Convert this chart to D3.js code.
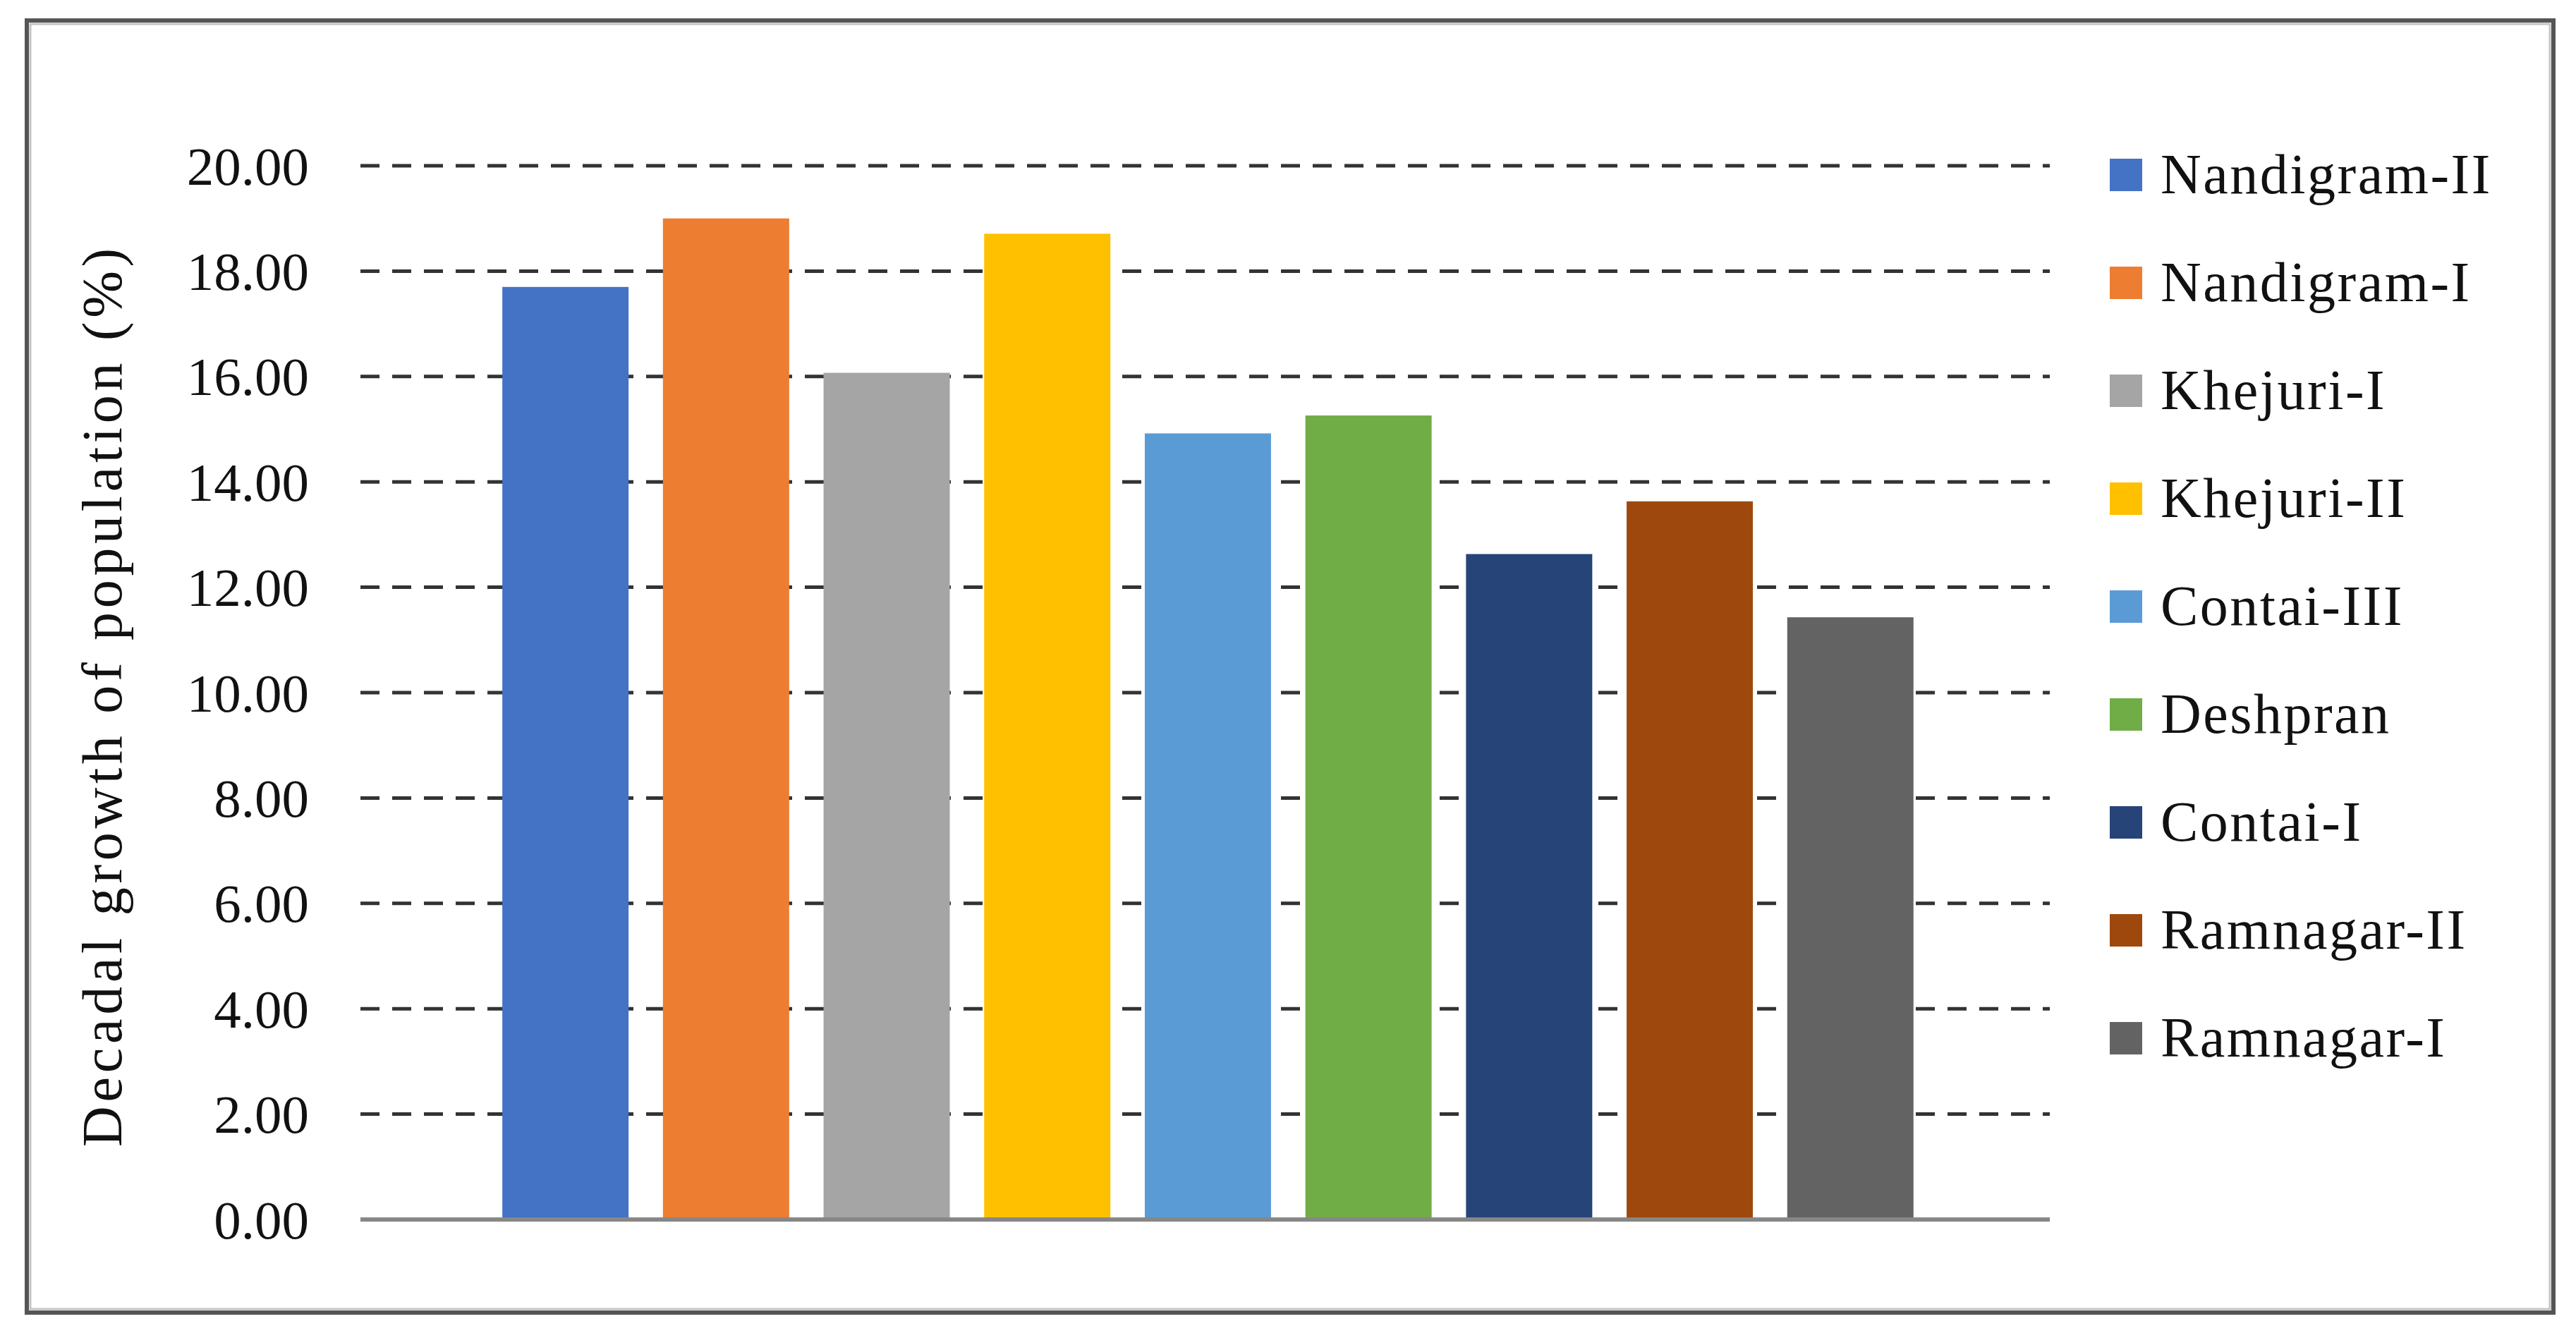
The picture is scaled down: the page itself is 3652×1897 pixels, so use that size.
<!DOCTYPE html>
<html>
<head>
<meta charset="utf-8">
<script src="https://cdn.jsdelivr.net/npm/d3@7"></script>
<style>
  body { margin: 0; background: white; }
</style>
</head>
<body>
<div id="chart"></div>
<script>
// decadal growth by block

let width = 3652;
let height = 1897;

let blocks = ["Nandigram-II", "Nandigram-I", "Khejuri-I", "Khejuri-II", "Contai-III",
    "Deshpran", "Contai-I", "Ramnagar-II", "Ramnagar-I"]
let growth = [17.70, 19.00, 16.07, 18.71, 14.92, 15.26, 12.63, 13.63, 11.43]
let colors = ["#4472C4", "#ED7D31", "#A5A5A5", "#FFC000", "#5B9BD5",
    "#70AD47", "#264478", "#9E480E", "#636363"]
let yTicks = [0, 2, 4, 6, 8, 10, 12, 14, 16, 18, 20]
let yTitle = "Decadal growth of population (%)"

let font = "'Liberation Serif', 'Times New Roman', serif"

let svg = d3.select("#chart").append("svg")
    .attr("width", width)
    .attr("height", height)
    .style("display", "block")

// outer frame
svg.append("rect")
    .attr("x", 38).attr("y", 29)
    .attr("width", 3582).attr("height", 1832)
    .attr("fill", "white")
    .attr("stroke", "#555")
    .attr("stroke-width", 6)

svg.append("rect")
    .attr("x", 43).attr("y", 34)
    .attr("width", 3572).attr("height", 1822)
    .attr("fill", "none")
    .attr("stroke", "#c4c4c4")
    .attr("stroke-width", 3)

let plot = { left: 511, right: 2906, top: 235, bottom: 1729 }

let x = d3.scaleBand()
    .domain(blocks)
    .range([plot.left, plot.right])
    .paddingInner(0.214)
    .paddingOuter(0.866)
    .align(0.51)

let y = d3.scaleLinear()
    .domain([0, 20])
    .range([plot.bottom, plot.top])

// dashed gridlines
svg.append("g")
    .selectAll("line")
    .data(yTicks.filter(d => d > 0))
    .join("line")
    .attr("x1", plot.left)
    .attr("x2", plot.right)
    .attr("y1", d => y(d))
    .attr("y2", d => y(d))
    .attr("stroke", "#333")
    .attr("stroke-width", 5)
    .attr("stroke-dasharray", "27,18")

// bars
svg.append("g")
    .selectAll("rect")
    .data(blocks)
    .join("rect")
    .attr("x", d => x(d))
    .attr("width", x.bandwidth())
    .attr("y", (d, i) => y(growth[i]))
    .attr("height", (d, i) => y(0) - y(growth[i]))
    .attr("fill", (d, i) => colors[i])

// baseline axis
svg.append("line")
    .attr("x1", plot.left)
    .attr("x2", plot.right)
    .attr("y1", y(0))
    .attr("y2", y(0))
    .attr("stroke", "#878787")
    .attr("stroke-width", 6)

// y tick labels
let yAxis = d3.axisLeft(y)
    .tickValues(yTicks)
    .tickFormat(d3.format(".2f"))
    .tickSize(0)
    .tickPadding(73)

let yg = svg.append("g")
    .attr("transform", `translate(${plot.left},0)`)
    .call(yAxis)

yg.select(".domain").remove()
yg.selectAll("text")
    .attr("font-family", font)
    .attr("font-size", 77)
    .attr("fill", "#111")
    .attr("dy", null)
    .attr("dominant-baseline", "central")

// y axis title
svg.append("text")
    .attr("transform", `translate(172, 986) rotate(-90)`)
    .attr("text-anchor", "middle")
    .attr("font-family", font)
    .attr("font-size", 80)
    .attr("letter-spacing", 5.7)
    .attr("fill", "#111")
    .text(yTitle)

// legend
let legend = svg.append("g")
    .selectAll("g")
    .data(blocks)
    .join("g")
    .attr("transform", (d, i) => `translate(2991, ${248 + i * 153})`)

legend.append("rect")
    .attr("x", 0)
    .attr("y", -23)
    .attr("width", 46)
    .attr("height", 46)
    .attr("fill", (d, i) => colors[i])

legend.append("text")
    .attr("x", 72)
    .attr("y", 26)
    .attr("font-family", font)
    .attr("font-size", 80)
    .attr("letter-spacing", 2.5)
    .attr("fill", "#111")
    .text(d => d)
</script>
</body>
</html>
